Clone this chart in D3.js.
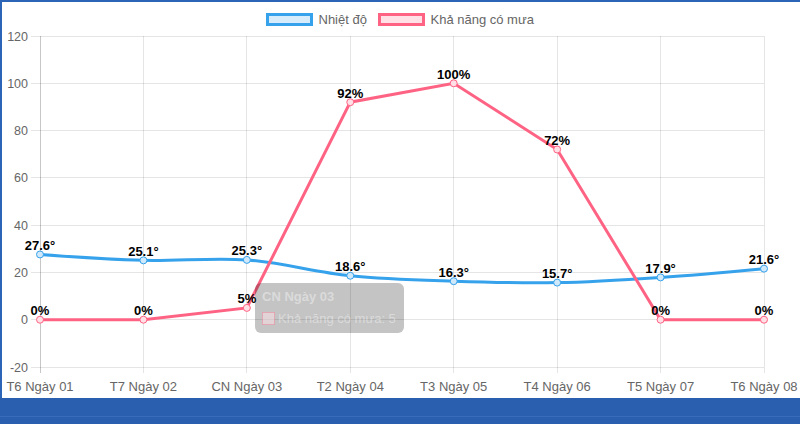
<!DOCTYPE html>
<html><head><meta charset="utf-8">
<script src="https://cdn.jsdelivr.net/npm/d3@7/dist/d3.min.js"></script>
<style>
html,body{margin:0;padding:0;background:#fff;}
svg{display:block;font-family:"Liberation Sans",Arial,Helvetica,sans-serif;}
</style></head>
<body><svg id="c" width="800" height="424"></svg>
<script>
const categories = ["T6 Ngày 01","T7 Ngày 02","CN Ngày 03","T2 Ngày 04","T3 Ngày 05","T4 Ngày 06","T5 Ngày 07","T6 Ngày 08"];
const temperature = [27.6, 25.1, 25.3, 18.6, 16.3, 15.7, 17.9, 21.6];
const rainChance = [0, 0, 5, 92, 100, 72, 0, 0];
const yTicks = [-20, 0, 20, 40, 60, 80, 100, 120];
const seriesNames = ["Nhiệt độ", "Khả năng có mưa"];
const tooltipTitle = "CN Ngày 03";
const tooltipBody = "Khả năng có mưa: 5";

const svg = d3.select("#c");
const W = 800, H = 424;
const L = 40, R = 764, T = 36, B = 367;
const blue = "#36a2eb", pink = "#ff6384";

svg.append("rect").attr("x",0).attr("y",0).attr("width",W).attr("height",H).attr("fill","#fff");

const x = d3.scalePoint().domain(categories).range([L, R]);
const y = d3.scaleLinear().domain([-20, 120]).range([B, T]);

const g = svg.append("g");
g.selectAll("line.h").data(yTicks).join("line")
  .attr("x1", L - 9).attr("x2", R).attr("y1", d => y(d)).attr("y2", d => y(d))
  .attr("stroke", "rgba(0,0,0,0.1)").attr("stroke-width", 1).attr("shape-rendering","crispEdges");
g.selectAll("line.v").data(categories).join("line")
  .attr("x1", d => x(d)).attr("x2", d => x(d)).attr("y1", T).attr("y2", B + 6)
  .attr("stroke", (d,i) => i === 0 ? "rgba(0,0,0,0.22)" : "rgba(0,0,0,0.1)").attr("stroke-width", 1).attr("shape-rendering","crispEdges");

g.selectAll("text.yt").data(yTicks).join("text")
  .attr("x", L - 12).attr("y", d => y(d) + 4.5).attr("text-anchor","end")
  .attr("font-size", 12.5).attr("fill", "#666").text(d => d);
g.selectAll("text.xt").data(categories).join("text")
  .attr("x", d => x(d)).attr("y", B + 24).attr("text-anchor","middle")
  .attr("font-size", 13).attr("fill", "#666").text(d => d);

const tempPts = categories.map((c,i) => [x(c), y(temperature[i])]);
const rainPts = categories.map((c,i) => [x(c), y(rainChance[i])]);
svg.append("path").attr("d", d3.line().curve(d3.curveCatmullRom.alpha(0.5))(tempPts))
  .attr("fill","none").attr("stroke", blue).attr("stroke-width", 3);
svg.append("path").attr("d", d3.line()(rainPts))
  .attr("fill","none").attr("stroke", pink).attr("stroke-width", 3);

function pts(data, col, fill){
  svg.append("g").selectAll("circle").data(data).join("circle")
    .attr("cx", d => d[0]).attr("cy", d => d[1]).attr("r", 3.5)
    .attr("fill", fill).attr("stroke", col).attr("stroke-width", 1);
}
pts(tempPts, blue, "#cfe8fa");
pts(rainPts, pink, "#ffe0e6");

svg.append("g").selectAll("text").data(temperature).join("text")
  .attr("x", (d,i) => x(categories[i])).attr("y", d => y(d) - 4.5)
  .attr("text-anchor","middle").attr("font-size", 13).attr("font-weight","bold").attr("fill","#000")
  .text(d => d.toFixed(1) + "°");
svg.append("g").selectAll("text").data(rainChance).join("text")
  .attr("x", (d,i) => x(categories[i])).attr("y", d => y(d) - 4.5)
  .attr("text-anchor","middle").attr("font-size", 13).attr("font-weight","bold").attr("fill","#000")
  .text(d => d + "%");

const leg = svg.append("g");
const legItems = [
  {name: seriesNames[0], col: blue, fill: "rgba(54,162,235,0.2)", x: 267.5},
  {name: seriesNames[1], col: pink, fill: "rgba(255,99,132,0.2)", x: 379.5}
];
legItems.forEach(it => {
  leg.append("rect").attr("x", it.x).attr("y", 14.5).attr("width", 44).attr("height", 10)
    .attr("fill", it.fill).attr("stroke", it.col).attr("stroke-width", 3);
  leg.append("text").attr("x", it.x + 51).attr("y", 24).attr("font-size", 13).attr("fill","#666").text(it.name);
});

const tt = svg.append("g");
tt.append("rect").attr("x", 255).attr("y", 283).attr("width", 149).attr("height", 50).attr("rx", 6)
  .attr("fill", "rgba(0,0,0,0.23)");
tt.append("text").attr("x", 262).attr("y", 301).attr("font-size", 13).attr("font-weight","bold")
  .attr("fill", "rgba(255,255,255,0.4)").text(tooltipTitle);
tt.append("rect").attr("x", 262.5).attr("y", 312.5).attr("width", 12).attr("height", 12)
  .attr("fill", "rgba(255,225,232,0.5)").attr("stroke", "rgba(255,99,132,0.35)").attr("stroke-width", 1);
tt.append("text").attr("x", 278).attr("y", 323).attr("font-size", 13)
  .attr("fill", "rgba(255,255,255,0.4)").text(tooltipBody);

svg.append("rect").attr("x",0).attr("y",0).attr("width",W).attr("height",2).attr("fill","#2c64b8");
svg.append("rect").attr("x",0).attr("y",0).attr("width",2).attr("height",H).attr("fill","#2c64b8");
svg.append("rect").attr("x",0).attr("y",398).attr("width",W).attr("height",26).attr("fill","#2a5fb0");
svg.append("rect").attr("x",0).attr("y",416).attr("width",W).attr("height",1).attr("fill","#3a6cbc");
</script></body></html>
